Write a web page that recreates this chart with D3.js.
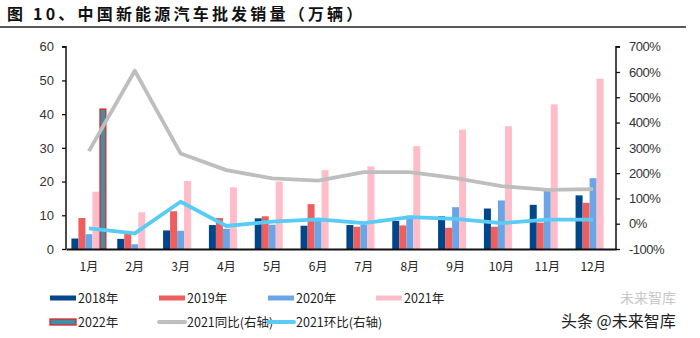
<!DOCTYPE html>
<html><head><meta charset="utf-8">
<script src="https://cdn.jsdelivr.net/npm/d3@7"></script>
<style>
html,body{margin:0;padding:0;background:#fff;}
svg{display:block;}
</style></head>
<body>
<svg id="c" width="700" height="338"></svg>
<script>
const months = ["1月","2月","3月","4月","5月","6月","7月","8月","9月","10月","11月","12月"];
const s2018 = [3.1, 3.0, 5.5, 7.1, 9.1, 6.9, 7.1, 8.3, 9.7, 12.0, 13.1, 15.9];
const s2019 = [9.2, 4.8, 11.2, 9.2, 9.7, 13.3, 6.6, 7.0, 6.3, 6.6, 7.8, 13.7];
const s2020 = [4.4, 1.4, 5.4, 6.0, 7.2, 8.4, 7.2, 9.9, 12.4, 14.4, 17.2, 21.0];
const s2021 = [17.0, 10.9, 20.2, 18.3, 20.0, 23.4, 24.5, 30.5, 35.4, 36.4, 42.9, 50.5];
const s2022 = [41.5, null, null, null, null, null, null, null, null, null, null, null];
const yoy2021 = [287, 605, 278, 212, 179, 170, 204, 204, 180, 149, 134, 137];
const mom2021 = [-18, -38, 87, -9, 8, 17, 2, 26, 19, 2, 16, 16];
const leftTicks = [0, 10, 20, 30, 40, 50, 60];
const rightTicks = [-100, 0, 100, 200, 300, 400, 500, 600, 700];

const barSeries = [
  {name:"2018年", values:s2018, fill:"#00468B", stroke:"none"},
  {name:"2019年", values:s2019, fill:"#EE5E5E", stroke:"none"},
  {name:"2020年", values:s2020, fill:"#6CA5E6", stroke:"none"},
  {name:"2021年", values:s2021, fill:"#FFBDC9", stroke:"none"},
  {name:"2022年", values:s2022, fill:"#3F8FA6", stroke:"#E52222"}
];
const lineSeries = [
  {name:"2021同比(右轴)", values:yoy2021, color:"#BEBEBE"},
  {name:"2021环比(右轴)", values:mom2021, color:"#58CCF4"}
];

const svg = d3.select("#c");
const L = 66, R = 616, T = 46.7, B = 249;

// title
svg.append("text").attr("x", 7).attr("y", 20)
  .attr("font-family", "'Noto Sans CJK SC', sans-serif").attr("font-weight", "bold")
  .attr("font-size", 16).attr("letter-spacing", "3.2px").attr("fill", "#111")
  .text("图 10、中国新能源汽车批发销量（万辆）");
svg.append("line").attr("x1", 0).attr("x2", 686).attr("y1", 27).attr("y2", 27)
  .attr("stroke", "#222").attr("stroke-width", 1.5);

const x = d3.scaleBand().domain(months).range([L, R]).paddingInner(0.236).paddingOuter(0.118);
const xi = d3.scaleBand().domain(barSeries.map(d => d.name)).range([0, x.bandwidth()]);
const yL = d3.scaleLinear().domain([0, 60]).range([B, T]);
const yR = d3.scaleLinear().domain([-100, 700]).range([B, T]);

// bars
barSeries.forEach(s => {
  svg.append("g").selectAll("rect")
    .data(months.map((m, i) => ({m, v: s.values[i]})).filter(d => d.v != null))
    .join("rect")
    .attr("x", d => x(d.m) + xi(s.name) + (s.stroke !== "none" ? 0.6 : 0))
    .attr("width", xi.bandwidth() - (s.stroke !== "none" ? 1.2 : 0))
    .attr("y", d => yL(d.v))
    .attr("height", d => yL(0) - yL(d.v))
    .attr("fill", s.fill)
    .attr("stroke", s.stroke)
    .attr("stroke-width", 1.3);
});

// lines
lineSeries.forEach(s => {
  const line = d3.line()
    .x((d, i) => x(months[i]) + x.bandwidth() / 2)
    .y(d => yR(d));
  svg.append("path").datum(s.values)
    .attr("d", line)
    .attr("fill", "none")
    .attr("stroke", s.color)
    .attr("stroke-width", 3.8)
    .attr("stroke-linejoin", "round");
});

const fontNum = "'Liberation Sans', Arial, sans-serif";
// left axis
const gL = svg.append("g").attr("transform", `translate(${L},0)`)
  .call(d3.axisLeft(yL).tickValues(leftTicks).tickSize(4).tickPadding(8).tickFormat(d3.format("d")));
gL.select(".domain").attr("stroke", "#111").attr("stroke-width", 1.5).attr("d", `M-4,${T}H0V${B}`);
gL.selectAll(".tick line").attr("stroke", "#111").attr("stroke-width", 1.3);
gL.selectAll(".tick text").attr("font-family", fontNum).attr("font-size", 13).attr("fill", "#333");

// right axis
const gR = svg.append("g").attr("transform", `translate(${R},0)`)
  .call(d3.axisRight(yR).tickValues(rightTicks).tickSize(4).tickPadding(9).tickFormat(d => d + "%"));
gR.select(".domain").attr("stroke", "#111").attr("stroke-width", 1.5).attr("d", `M4,${T}H0V${B}`);
gR.selectAll(".tick line").attr("stroke", "#111").attr("stroke-width", 1.3);
gR.selectAll(".tick text").attr("font-family", fontNum).attr("font-size", 13).attr("fill", "#333").attr("letter-spacing", "-0.5px");

// bottom axis
const gB = svg.append("g").attr("transform", `translate(0,${B})`)
  .call(d3.axisBottom(x).tickSize(0).tickPadding(13));
gB.select(".domain").attr("stroke", "#111").attr("stroke-width", 1.8);
gB.selectAll(".tick text").attr("font-family", "'Noto Sans CJK SC', sans-serif").attr("font-size", 12).attr("fill", "#222");

// legend
const legendItems = [
  {label:"2018年", type:"bar", s:barSeries[0], x:50, y:298},
  {label:"2019年", type:"bar", s:barSeries[1], x:159, y:298},
  {label:"2020年", type:"bar", s:barSeries[2], x:268, y:298},
  {label:"2021年", type:"bar", s:barSeries[3], x:376, y:298},
  {label:"2022年", type:"bar", s:barSeries[4], x:50, y:322},
  {label:"2021同比(右轴)", type:"line", s:lineSeries[0], x:159, y:322},
  {label:"2021环比(右轴)", type:"line", s:lineSeries[1], x:268, y:322}
];
const lg = svg.append("g");
legendItems.forEach(it => {
  if (it.type === "bar") {
    const h = it.s.stroke !== "none" ? 6 : 5;
    lg.append("rect").attr("x", it.x).attr("y", it.y - h / 2).attr("width", 26).attr("height", h)
      .attr("fill", it.s.fill).attr("stroke", it.s.stroke).attr("stroke-width", 1.3);
  } else {
    lg.append("line").attr("x1", it.x).attr("x2", it.x + 26).attr("y1", it.y).attr("y2", it.y)
      .attr("stroke", it.s.color).attr("stroke-width", 4).attr("stroke-linecap", "round");
  }
  lg.append("text").attr("x", it.x + 28).attr("y", it.y + 4.5)
    .attr("font-family", "'Noto Sans CJK SC', sans-serif").attr("font-size", 12.5).attr("fill", "#222")
    .text(it.label);
});

// watermarks
svg.append("text").attr("x", 620).attr("y", 303)
  .attr("font-family", "'Noto Sans CJK SC', sans-serif").attr("font-size", 14).attr("fill", "#c8c8c8")
  .text("未来智库");
svg.append("text").attr("x", 561).attr("y", 327)
  .attr("font-family", "'Noto Sans CJK SC', sans-serif").attr("font-size", 16).attr("fill", "#222")
  .text("头条 @未来智库");
</script>
</body></html>
